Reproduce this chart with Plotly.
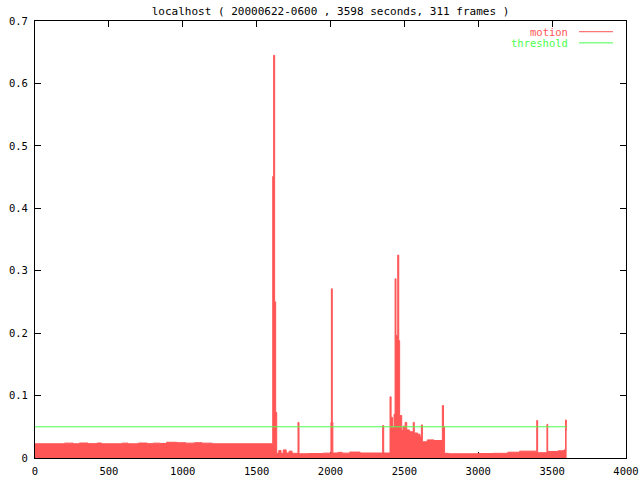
import plotly.graph_objects as go

# ---- data ----
# step starts (seconds) and motion value held until the next time
times = [0, 200, 260, 300, 360, 420, 450, 590, 630, 700, 760, 800, 850, 890, 960,
         1020, 1080, 1130, 1200, 1609, 1615, 1622, 1629, 1636, 1650, 1665, 1680,
         1700, 1720, 1740, 1780, 1787, 1850, 1950, 2003, 2006, 2012, 2016, 2050,
         2080, 2130, 2200, 2353, 2360, 2403, 2410, 2420, 2430, 2437, 2443, 2455,
         2462, 2468, 2482, 2491, 2500, 2505, 2516, 2535, 2560, 2567, 2590, 2606,
         2615, 2622, 2655, 2700, 2757, 2765, 2772, 2800, 3000, 3100, 3200, 3280,
         3396, 3402, 3465, 3470, 3540, 3580, 3591, 3596, 3598]
motion = [0.0228, 0.0238, 0.0228, 0.0240, 0.0230, 0.0240, 0.0228, 0.0238, 0.0228,
          0.0240, 0.0230, 0.0238, 0.0232, 0.0252, 0.0245, 0.0238, 0.0245, 0.0238,
          0.0228, 0.451, 0.645, 0.250, 0.073, 0.0075, 0.012, 0.0075, 0.013, 0.008,
          0.011, 0.0075, 0.057, 0.0068, 0.0072, 0.0078, 0.057, 0.271, 0.057, 0.0080,
          0.0090, 0.0078, 0.0095, 0.0080, 0.052, 0.0080, 0.098, 0.065, 0.049, 0.070,
          0.287, 0.196, 0.325, 0.188, 0.068, 0.044, 0.051, 0.044, 0.057, 0.045,
          0.042, 0.057, 0.040, 0.038, 0.034, 0.053, 0.026, 0.029, 0.028, 0.084,
          0.050, 0.0075, 0.0068, 0.0072, 0.0075, 0.0093, 0.011, 0.060, 0.0085,
          0.054, 0.0105, 0.0115, 0.013, 0.061, 0.045, 0.045]

threshold_times = [0, 3598]
threshold_values = [0.05, 0.05]

x_ticks = [0, 500, 1000, 1500, 2000, 2500, 3000, 3500, 4000]
y_ticks = [0, 0.1, 0.2, 0.3, 0.4, 0.5, 0.6, 0.7]
y_tick_labels = ["0", "0.1", "0.2", "0.3", "0.4", "0.5", "0.6", "0.7"]

title_text = "localhost ( 20000622-0600 , 3598 seconds, 311 frames )"
series_names = ["motion", "threshold"]
series_colors = ["#ff5555", "#4cff4c"]

FONT = "DejaVu Sans Mono"

fig = go.Figure()
fig.add_trace(go.Scatter(
    x=times, y=motion, mode="lines", name=series_names[0],
    line=dict(color=series_colors[0], width=1, shape="hv"),
    fill="tozeroy", fillcolor=series_colors[0], showlegend=False,
    hoverinfo="skip"))
fig.add_trace(go.Scatter(
    x=threshold_times, y=threshold_values, mode="lines", name=series_names[1],
    line=dict(color=series_colors[1], width=1), showlegend=False,
    hoverinfo="skip"))

# gnuplot-style key: right-aligned text followed by a line sample
key_rows = [0.9755, 0.950]
for name, col, yk in zip(series_names, series_colors, key_rows):
    fig.add_annotation(x=0.905, y=yk, xref="paper", yref="paper", text=name,
                       showarrow=False, xanchor="right", yanchor="middle",
                       font=dict(family=FONT, size=10.5, color=col))
    fig.add_shape(type="line", xref="paper", yref="paper", x0=0.9205, x1=0.978,
                  y0=yk, y1=yk, line=dict(color=col, width=1))

axis_common = dict(showgrid=False, zeroline=False, showline=True, linecolor="black",
                   linewidth=1, mirror="ticks", ticks="inside", ticklen=6,
                   tickcolor="black", tickwidth=1, layer="below traces",
                   automargin=False,
                   tickfont=dict(family=FONT, size=10.5, color="black"))

fig.update_layout(
    width=640, height=480, autosize=False,
    paper_bgcolor="white", plot_bgcolor="white",
    margin=dict(l=35, r=14, t=21, b=22),
    title=dict(text=title_text, x=0.5, xref="paper", xanchor="center",
               y=1 - 11 / 480, yref="container", yanchor="middle",
               font=dict(family=FONT, size=11, color="black"),
               automargin=False),
    xaxis=dict(range=[0, 4000], tickvals=x_ticks, ticktext=[str(v) for v in x_ticks],
               ticklabelstandoff=3, **axis_common),
    yaxis=dict(range=[0, 0.7], tickvals=y_ticks, ticktext=y_tick_labels,
               ticklabelstandoff=4, **axis_common),
    showlegend=False,
)

fig.write_html("out.html",
               config={"displayModeBar": False, "staticPlot": True},
               post_script="document.body.style.margin='0';document.body.style.overflow='hidden';")
